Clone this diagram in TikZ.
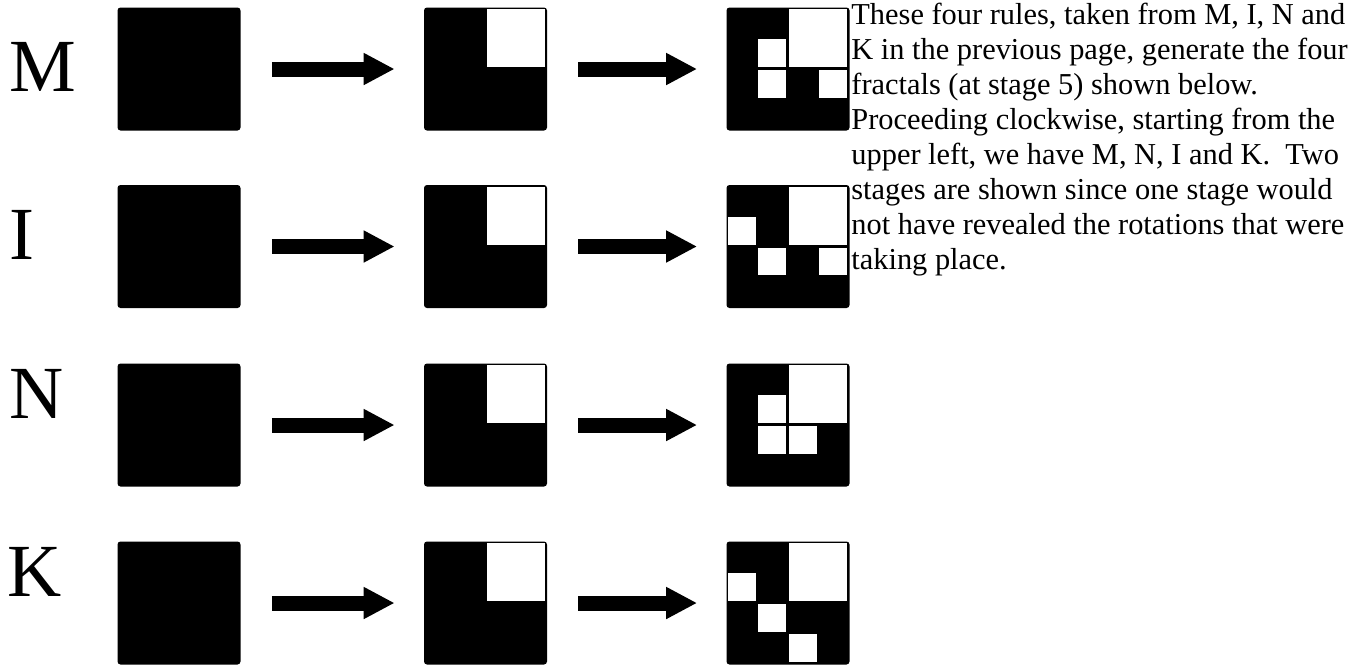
\documentclass[tikz,border=0pt]{standalone}
\usepackage{fontspec}
\setmainfont{Liberation Serif}
\usetikzlibrary{arrows.meta, positioning}

\begin{document}
\begin{tikzpicture}[
    x=0.5pt, y=-0.5pt,
    sq/.style={fill=black, minimum size=61.5pt, inner sep=0pt,
               rounded corners=1.5pt},
    hole/.style={fill=white},
    rulename/.style={font=\fontsize{37.5}{40}\selectfont, inner sep=0pt,
                     anchor=base west},
    fatarrow/.style={line width=7.5pt, -{Triangle[length=15.5pt, width=15pt]},
                     shorten <=15.5pt, shorten >=14.5pt}
  ]
  \useasboundingbox (0,0) rectangle (1351,666);

  % Rule M
  \node[rulename] (lblM) at (9, 91) {M};
  \node[sq] (m1) at (179, 69) {};
  \node[sq] (m2) at (485.5, 69) {};
  \node[sq] (m3) at (788, 69) {};
  \draw[fatarrow] (m1) -- (m2);
  \draw[fatarrow] (m2) -- (m3);
  \begin{scope}[shift={(m2.north west)}]
    \fill[hole] (63,2) rectangle (121,60);
  \end{scope}
  \begin{scope}[shift={(m3.north west)}]
    \fill[hole] (63,2) rectangle (121,60);
    \fill[hole] (32,32) rectangle (60,60);
    \fill[hole] (32,63) rectangle (60,90.5);
    \fill[hole] (93,63) rectangle (121,90.5);
  \end{scope}

  % Rule I
  \node[rulename] (lblI) at (9, 259) {I};
  \node[sq] (i1) at (179, 246.5) {};
  \node[sq] (i2) at (485.5, 246.5) {};
  \node[sq] (i3) at (788, 246.5) {};
  \draw[fatarrow] (i1) -- (i2);
  \draw[fatarrow] (i2) -- (i3);
  \begin{scope}[shift={(i2.north west)}]
    \fill[hole] (63,2) rectangle (121,60);
  \end{scope}
  \begin{scope}[shift={(i3.north west)}]
    \fill[hole] (63,2) rectangle (121,60);
    \fill[hole] (2,32) rectangle (29.5,60);
    \fill[hole] (32,63) rectangle (60,90.5);
    \fill[hole] (93,63) rectangle (121,90.5);
  \end{scope}

  % Rule N
  \node[rulename] (lblN) at (9, 418) {N};
  \node[sq] (n1) at (179, 425) {};
  \node[sq] (n2) at (485.5, 425) {};
  \node[sq] (n3) at (788, 425) {};
  \draw[fatarrow] (n1) -- (n2);
  \draw[fatarrow] (n2) -- (n3);
  \begin{scope}[shift={(n2.north west)}]
    \fill[hole] (63,2) rectangle (121,60);
  \end{scope}
  \begin{scope}[shift={(n3.north west)}]
    \fill[hole] (63,2) rectangle (121,60);
    \fill[hole] (32,32) rectangle (60,60);
    \fill[hole] (32,63) rectangle (60,90.5);
    \fill[hole] (63,63) rectangle (90.5,90.5);
  \end{scope}

  % Rule K
  \node[rulename] (lblK) at (7, 596) {K};
  \node[sq] (k1) at (179, 603) {};
  \node[sq] (k2) at (485.5, 603) {};
  \node[sq] (k3) at (788, 603) {};
  \draw[fatarrow] (k1) -- (k2);
  \draw[fatarrow] (k2) -- (k3);
  \begin{scope}[shift={(k2.north west)}]
    \fill[hole] (63,2) rectangle (121,60);
  \end{scope}
  \begin{scope}[shift={(k3.north west)}]
    \fill[hole] (63,2) rectangle (121,60);
    \fill[hole] (2,32) rectangle (29.5,60);
    \fill[hole] (32,63) rectangle (60,90.5);
    \fill[hole] (63,93) rectangle (90.5,121);
  \end{scope}

  % Note beside the first rules
  \node[anchor=north west, align=left, inner sep=0pt,
        font=\fontsize{15.2}{17.5}\selectfont] (note) at (851, 3)
    {These four rules, taken from M, I, N and\\
     K in the previous page, generate the four\\
     fractals (at stage 5) shown below.\\
     Proceeding clockwise, starting from the\\
     upper left, we have M, N, I and K.\ \ Two\\
     stages are shown since one stage would\\
     not have revealed the rotations that were\\
     taking place.};
\end{tikzpicture}
\end{document}
